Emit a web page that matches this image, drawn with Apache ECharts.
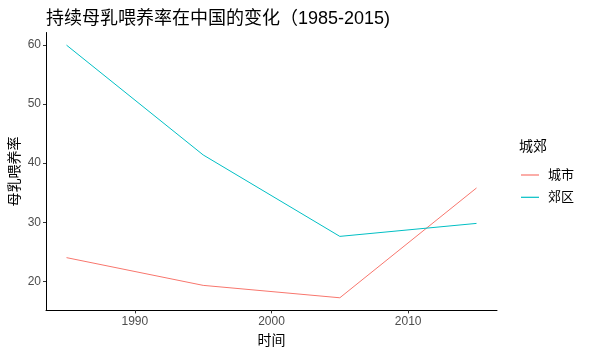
<!DOCTYPE html>
<html><head><meta charset="utf-8">
<script src="https://cdn.jsdelivr.net/npm/echarts@6/dist/echarts.min.js"></script>
<style>html,body{margin:0;padding:0;background:#fff}#c{width:600px;height:356px}</style>
</head><body><div id="c"></div>
<script>
const years = [1985, 1995, 2005, 2015];
const urban = [24.0, 19.3, 17.2, 35.8];
const suburban = [60.0, 41.4, 27.6, 29.8];
const xTicks = [1990, 2000, 2010];
const yTicks = [20, 30, 40, 50, 60];
const seriesNames = ['城市', '郊区'];
const colors = ['#F8766D', '#00BFC4'];

const font = 'Arial, "Liberation Sans", "Noto Sans CJK SC", sans-serif';
const chart = echarts.init(document.getElementById('c'), null, {renderer: 'canvas'});
const mk = (name, vals, color) => ({
  name, type: 'line', data: years.map((y, i) => [y, vals[i]]),
  symbol: 'none', lineStyle: {color, width: 1}, itemStyle: {color}, animation: false
});
chart.setOption({
  animation: false,
  textStyle: {fontFamily: font},
  title: {
    text: '持续母乳喂养率在中国的变化（1985-2015)', left: 41, top: 5,
    textStyle: {fontSize: 18, fontWeight: 'normal', color: '#000', fontFamily: font}
  },
  graphic: [{type: 'text', left: 519, top: 140, style: {text: '城郊', fontSize: 14, fill: '#000', fontFamily: font}}],
  legend: {
    orient: 'vertical', left: 516, top: 163, itemWidth: 18, itemHeight: 1.2, itemGap: 8.3,
    icon: 'rect',
    data: seriesNames,
    textStyle: {fontSize: 13, lineHeight: 14, color: '#000', fontFamily: font, padding: [0, 0, 0, 4]}
  },
  grid: {left: 46, right: 103, top: 32.5, bottom: 45.6, containLabel: false, outerBoundsMode: 'none'},
  xAxis: {
    type: 'value', min: 1983.5, max: 2016.5,
    name: '时间', nameLocation: 'middle', nameGap: 24, nameMoveOverlap: false,
    nameTextStyle: {fontSize: 14, color: '#000', fontFamily: font},
    axisLine: {lineStyle: {color: '#000', width: 1}},
    axisTick: {show: true, length: 3, customValues: xTicks, lineStyle: {color: '#333'}},
    axisLabel: {customValues: xTicks, formatter: v => String(v), fontSize: 12, color: '#4D4D4D', margin: 5, fontFamily: font},
    splitLine: {show: false}
  },
  yAxis: {
    type: 'value', min: 15.06, max: 62.14,
    name: '母乳喂养率', nameLocation: 'middle', nameGap: 24, nameRotate: 90, nameMoveOverlap: false,
    nameTextStyle: {fontSize: 14, color: '#000', fontFamily: font},
    axisLine: {show: true, lineStyle: {color: '#000', width: 1}},
    axisTick: {show: true, length: 3, customValues: yTicks, lineStyle: {color: '#333'}},
    axisLabel: {customValues: yTicks, formatter: v => String(v), fontSize: 12, color: '#4D4D4D', margin: 5, fontFamily: font},
    splitLine: {show: false}
  },
  series: [mk(seriesNames[0], urban, colors[0]), mk(seriesNames[1], suburban, colors[1])]
});
</script></body></html>
